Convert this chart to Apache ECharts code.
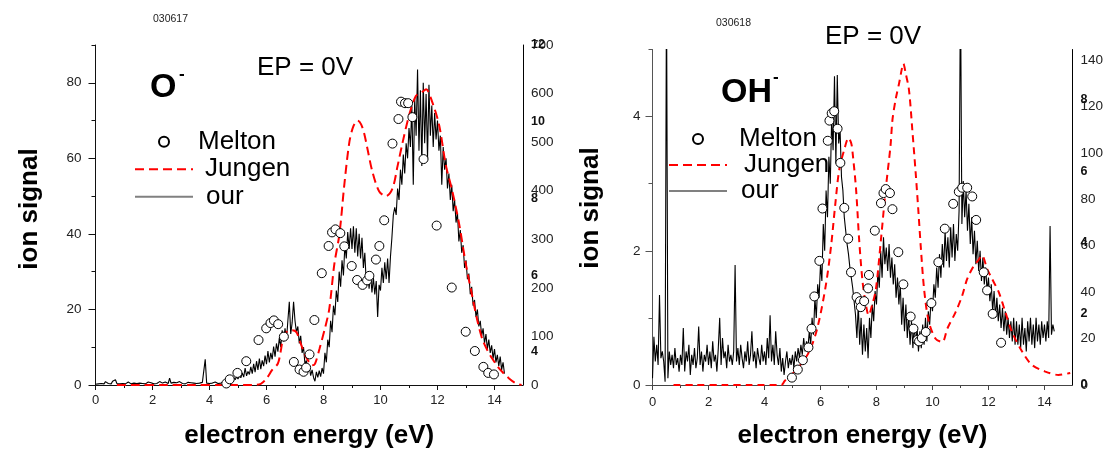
<!DOCTYPE html>
<html><head><meta charset="utf-8">
<script src="https://cdn.jsdelivr.net/npm/echarts@6/dist/echarts.min.js"></script>
<style>html,body{margin:0;padding:0;background:#fff}#c{width:1106px;height:454px}</style>
</head><body><div id="c"></div>
<script>
const FONT = '"Liberation Sans", Arial, Helvetica, sans-serif';

// ---------- tick labels ----------
const xTickLabels = [0, 2, 4, 6, 8, 10, 12, 14];
const xMinorTicks = [1, 3, 5, 7, 9, 11, 13];
const yLeftLabelsA = [0, 20, 40, 60, 80];
const yLeftMinorA = [10, 30, 50, 70, 90];
const yRightLabelsA = [0, 100, 200, 300, 400, 500, 600, 700];
const yRightBoldLabelsA = [4, 6, 8, 10, 12];
const yLeftLabelsB = [0, 2, 4];
const yLeftMinorB = [1, 3, 5];
const yRightLabelsB = [0, 20, 40, 60, 80, 100, 120, 140];
const yRightBoldLabelsB = [0, 2, 4, 6, 8];

// ---------- panel A: O- (030617) ----------
const ourStartA = 0, ourStepA = 0.05;
const ourSignalA = [
  0.2,0.5,0.3,0.8,0.4,0.6,0.3,0.9,0.5,0.4,0.7,0.3,1.0,0.5,1.4,0.4,0.6,0.3,0.5,0.4,
  0.6,0.3,0.5,0.8,0.4,0.3,0.6,0.5,0.9,0.4,0.3,0.5,0.7,0.4,0.6,0.3,0.5,0.8,0.4,0.6,
  0.5,0.3,0.7,0.4,0.6,0.9,0.4,0.5,0.3,0.8,0.6,0.4,1.8,0.5,0.3,0.7,0.4,0.6,0.5,0.9,
  1.3,0.4,0.6,0.3,0.5,0.7,0.4,0.6,0.3,0.5,0.8,0.4,0.6,0.5,0.3,0.7,0.4,6.8,0.5,0.6,
  0.4,0.7,0.5,0.3,0.8,0.6,0.4,0.9,0.5,0.7,
  0.8,1.2,0.6,1.5,1.0,1.8,1.2,2.0,1.4,2.2,1.6,2.5,1.9,3.2,2.1,4.5,2.4,3.6,2.8,4.8,3.0,5.6,3.4,6.3,4.0,7.0,4.2,6.5,5.0,7.8,
  5.5,9.0,6.0,8.5,6.8,10.2,7.5,11.0,8.8,12.5,10.0,14.5,11.5,15.0,12.0,17.0,22.0,13.5,16.5,22.0,
  17.0,14.0,15.5,11.0,13.0,8.5,10.0,5.5,6.5,3.5,5.0,2.5,4.0,2.0,1.0,3.5,2.0,3.8,2.2,4.5,
  3.0,8.5,6.0,12.0,10.0,17.0,14.0,21.0,18.5,25.0,22.0,30.0,26.0,33.0,29.0,37.0,33.5,40.5,36.0,41.5,
  36.0,42.0,35.0,41.5,34.0,40.0,33.5,39.0,31.0,35.0,27.0,30.0,25.5,29.5,24.5,28.5,24.0,27.5,18.0,26.5,
  25.0,31.0,27.0,32.5,28.0,33.5,27.0,34.0,39.0,45.0,47.0,45.0,52.0,49.0,57.0,53.0,61.0,56.0,64.0,60.0,
  68.0,63.0,74.0,53.0,76.0,66.0,83.5,62.0,78.0,58.0,80.0,64.0,77.0,60.0,79.5,66.0,74.0,63.0,72.0,65.0,
  70.0,62.0,66.0,53.0,63.0,57.0,60.0,52.0,56.0,49.0,53.0,46.0,49.0,43.0,45.5,38.0,41.0,35.0,37.0,31.0,
  33.0,28.0,29.5,24.0,26.0,21.0,22.5,18.0,20.0,15.5,17.0,13.0,15.0,11.0,13.5,9.5,12.0,8.5,10.5,7.0,9.5,6.0,8.0,5.0,7.5,4.0,6.0,3.0
];
const jungenEnergyA = [0.75,1.5,2.5,3.5,4.5,5.5,5.8,6.0,6.2,6.4,6.5,6.6,6.75,6.9,7.05,7.2,7.35,7.5,7.6,7.7,7.86,8.05,8.2,8.38,8.56,8.73,8.91,9.05,9.2,9.32,9.43,9.54,9.71,9.95,10.19,10.42,10.6,10.77,11.0,11.24,11.45,11.6,11.82,12.06,12.29,12.52,12.76,12.99,13.22,13.4,13.57,13.75,13.92,14.1,14.27,14.5,14.74,14.95];
const jungenSignalA = [0,0,0,0,0,0,0.3,1.7,4.0,5.7,9,13,14.3,14.5,14,11,8,6,5.2,5.6,9.6,15,20,32,40,53,64.4,68.5,70,69,66.5,62.6,56.6,51.3,50,52,58,64,71.3,76.5,77.5,78.3,74.8,68.7,58.3,51.3,42.6,32.2,23.5,17,12.2,9.2,7,5,3.5,1.8,0.5,0];
const meltonEnergyA = [4.59,4.71,4.98,5.29,5.72,5.99,6.14,6.26,6.41,6.61,6.96,7.16,7.3,7.39,7.51,7.68,7.94,8.18,8.3,8.42,8.59,8.73,8.99,9.18,9.37,9.53,9.61,9.84,9.96,10.13,10.42,10.63,10.72,10.86,10.97,11.12,11.51,11.97,12.5,12.99,13.31,13.61,13.78,13.98];
const meltonSignalA = [0.4,1.5,3.2,6.3,11.9,15,16.4,17.1,16.1,12.8,6.1,4.1,3.5,4.6,8.1,17.2,29.6,36.8,40.4,41.2,40.2,36.7,31.5,27.8,26.5,27.7,28.9,33.2,36.8,43.6,63.9,70.4,75,74.6,74.6,70.9,59.8,42.2,25.8,14.1,9,4.8,3.2,2.8];

// ---------- panel B: OH- (030618) ----------
const ourStartB = 0, ourStepB = 0.05;
const ourSignalB = [
  0.1,0.72,0.35,0.6,0.3,1.34,0.4,0.5,0.35,0.05,6.0,0.1,0.5,0.3,0.45,0.25,0.55,0.3,0.4,0.2,
  0.45,0.3,0.85,0.2,0.5,0.35,0.6,0.15,0.45,0.3,0.55,0.25,0.4,0.87,0.3,0.5,0.2,0.45,0.35,0.6,
  0.3,0.5,0.25,0.65,0.35,0.45,0.2,0.55,1.0,0.3,0.7,0.4,0.5,0.25,0.6,0.35,0.45,0.3,0.5,1.79,
  0.35,0.55,0.3,0.6,0.4,0.25,0.5,0.35,0.65,0.3,0.45,0.8,0.35,0.5,0.25,0.55,0.4,0.3,0.6,0.35,
  0.5,0.3,0.7,0.4,1.04,0.35,0.6,0.3,0.8,0.45,
  0.3,0.55,0.2,0.4,0.15,0.35,0.5,0.25,0.4,0.3,
  0.45,0.25,0.5,0.35,0.55,0.4,0.6,0.45,0.7,0.5,0.65,0.55,0.8,0.6,1.0,0.75,1.3,1.0,1.5,1.3,
  1.8,1.55,2.4,2.0,2.9,2.5,3.4,3.0,4.0,3.5,4.6,3.3,4.62,3.6,3.8,3.1,2.9,2.5,2.3,2.1,
  1.95,1.75,1.6,1.45,1.25,1.05,0.7,1.2,0.6,1.0,0.45,0.9,0.5,0.85,0.4,1.0,0.7,1.2,0.95,1.4,
  1.2,1.7,1.45,2.0,1.6,2.2,1.8,2.05,1.7,2.1,1.6,1.9,1.5,1.8,1.3,1.6,1.2,1.5,0.9,1.3,
  0.8,1.2,0.7,1.05,0.6,0.95,0.55,0.9,0.6,0.85,0.5,0.8,0.55,0.9,0.6,1.0,0.65,1.1,0.9,1.3,
  1.1,1.5,1.3,1.75,1.45,1.95,1.6,2.1,1.75,2.3,1.85,2.2,1.75,2.35,1.9,2.4,1.85,2.25,2.0,2.6,
  6.0,2.4,3.04,2.5,2.9,2.3,2.7,2.1,2.5,1.95,2.3,1.8,2.15,1.7,2.0,1.55,1.9,1.5,1.75,1.4,
  1.6,1.25,1.5,1.1,1.4,1.0,1.3,0.95,1.2,0.85,1.15,0.8,1.1,0.75,1.0,0.7,0.95,0.65,1.0,0.6,
  0.95,0.6,0.9,0.55,1.0,0.6,0.85,0.5,0.95,0.65,1.0,0.6,0.9,0.55,1.0,0.65,0.9,0.6,0.95,0.7,0.9,0.65,0.95,0.7,2.37,0.75,0.9,0.8
];
const jungenEnergyB = [0.75,1.5,2.5,3.5,4.6,4.72,5.19,5.6,5.9,6.2,6.38,6.53,6.67,6.85,7.0,7.1,7.15,7.27,7.38,7.5,7.62,7.72,7.85,7.98,8.16,8.33,8.5,8.57,8.69,8.81,8.9,8.96,9.04,9.16,9.28,9.4,9.5,9.58,9.7,9.87,10.11,10.35,10.53,10.83,11.06,11.24,11.48,11.62,11.77,11.95,12.13,12.37,12.6,12.84,13.2,13.55,14.03,14.5,14.92];
const jungenSignalB = [0,0,0,0,0,0.06,0.25,0.5,0.87,1.51,2.08,2.7,3.21,3.51,3.68,3.6,3.45,2.92,2.17,1.55,1.2,1.04,1.2,1.43,2.17,2.92,3.56,3.95,4.27,4.5,4.7,4.79,4.65,4.4,3.8,3.16,2.57,2.07,1.43,0.94,0.69,0.64,0.84,1.09,1.33,1.58,1.78,1.85,1.93,1.73,1.58,1.38,1.09,0.79,0.5,0.3,0.2,0.15,0.18];
const meltonEnergyB = [4.98,5.19,5.37,5.57,5.68,5.78,5.96,6.07,6.26,6.32,6.4,6.49,6.61,6.71,6.85,6.99,7.09,7.29,7.41,7.44,7.56,7.7,7.73,7.94,8.16,8.25,8.33,8.48,8.57,8.78,8.96,9.22,9.32,9.46,9.52,9.62,9.76,9.96,10.21,10.44,10.74,10.94,11.06,11.24,11.42,11.56,11.83,11.95,12.15,12.45];
const meltonSignalB = [0.11,0.23,0.37,0.56,0.84,1.32,1.85,2.63,3.64,3.94,4.05,4.08,3.82,3.31,2.64,2.18,1.68,1.31,1.25,1.16,1.25,1.44,1.64,2.3,2.71,2.86,2.92,2.86,2.62,1.98,1.5,1.02,0.84,0.67,0.65,0.7,0.79,1.22,1.83,2.33,2.7,2.88,2.94,2.94,2.81,2.46,1.68,1.41,1.06,0.63];

// ---------- helpers ----------
function zip(xs, ys) { return xs.map((x, i) => [x, ys[i]]); }
function stepped(start, step, ys) { return ys.map((y, i) => [+(start + i * step).toFixed(2), y]); }

function xMain(grid, margin, color) {
  return {
    type: 'value', gridIndex: grid, position: 'bottom', min: 0, max: 15,
    axisLine: { show: true, onZero: false, lineStyle: { color: color, width: 1 } },
    axisTick: { show: true, length: 5, customValues: xTickLabels, lineStyle: { color: color } },
    axisLabel: { customValues: xTickLabels, fontSize: 13, color: '#222', margin: margin, fontFamily: FONT },
    splitLine: { show: false },
    name: 'electron energy (eV)', nameLocation: 'middle', nameGap: 38,
    nameTextStyle: { fontSize: 26, fontWeight: 'bold', fontFamily: FONT, color: '#000' }
  };
}
function xMinor(grid, color) {
  return {
    type: 'value', gridIndex: grid, position: 'bottom', min: 0, max: 15,
    axisLine: { show: false }, axisLabel: { show: false }, splitLine: { show: false },
    axisTick: { show: true, length: 3, customValues: xMinorTicks, lineStyle: { color: color } }
  };
}
function yMain(grid, min, max, labels, margin, color) {
  return {
    type: 'value', gridIndex: grid, position: 'left', min: min, max: max,
    axisLine: { show: true, onZero: false, lineStyle: { color: color, width: 1 } },
    axisTick: { show: true, length: 7, customValues: labels, lineStyle: { color: color } },
    axisLabel: { customValues: labels, fontSize: 13.5, color: '#222', margin: margin, fontFamily: FONT },
    splitLine: { show: false }
  };
}
function yMinor(grid, min, max, ticks, color) {
  return {
    type: 'value', gridIndex: grid, position: 'left', min: min, max: max,
    axisLine: { show: false }, axisLabel: { show: false }, splitLine: { show: false },
    axisTick: { show: true, length: 4, customValues: ticks, lineStyle: { color: color } }
  };
}
function yRight(grid, min, max, labels) {
  return {
    type: 'value', gridIndex: grid, position: 'right', min: min, max: max,
    axisLine: { show: true, onZero: false, lineStyle: { color: '#000', width: 1 } },
    axisTick: { show: false },
    axisLabel: { customValues: labels, fontSize: 13.5, color: '#222', margin: 8, fontFamily: FONT },
    splitLine: { show: false }
  };
}
function yRightBold(grid, min, max, labels) {
  return {
    type: 'value', gridIndex: grid, position: 'right', min: min, max: max,
    axisLine: { show: false }, axisTick: { show: false },
    axisLabel: { customValues: labels, fontSize: 12.5, fontWeight: 'bold', color: '#111', margin: 8, fontFamily: FONT },
    splitLine: { show: false }
  };
}

function panelSeries(xi, yi, our, jungen, melton, dash) {
  return [
    { name: 'our', type: 'line', xAxisIndex: xi, yAxisIndex: yi, data: our, symbol: 'none',
      lineStyle: { color: '#000', width: 1.1 }, itemStyle: { color: '#000' }, clip: true, z: 2 },
    { name: 'Jungen', type: 'line', xAxisIndex: xi, yAxisIndex: yi, data: jungen, symbol: 'none',
      smooth: 0.3, lineStyle: { color: '#ff0000', width: 2, type: dash }, itemStyle: { color: '#ff0000' }, clip: true, z: 3 },
    { name: 'Melton', type: 'scatter', xAxisIndex: xi, yAxisIndex: yi, data: melton, symbol: 'circle',
      symbolSize: 9, itemStyle: { color: '#fff', borderColor: '#000', borderWidth: 1, opacity: 1 }, z: 4 }
  ];
}

const HIDE_SYMBOL = { color: 'rgba(0,0,0,0)', borderColor: 'rgba(0,0,0,0)', borderWidth: 0 };
function legendFor(left, top, lh, padM, padJ, padO) {
  return {
    orient: 'vertical', left: left, top: top, padding: 0, itemWidth: 58, itemHeight: 10, itemGap: 0,
    selectedMode: false,
    textStyle: { fontSize: 26, fontFamily: FONT, color: '#000', lineHeight: lh },
    data: [
      { name: 'Melton', textStyle: { padding: [0, 0, 0, padM] } },
      { name: 'Jungen', itemStyle: HIDE_SYMBOL, textStyle: { padding: [0, 0, 0, padJ] } },
      { name: 'our', itemStyle: HIDE_SYMBOL, lineStyle: { color: '#808080', width: 2, type: 'solid' }, textStyle: { padding: [0, 0, 0, padO] } }
    ]
  };
}

function txt(x, y, text, font, fill) {
  return { type: 'text', x: x, y: y, silent: true,
    style: { text: text, font: font, fill: fill || '#000', align: 'left', verticalAlign: 'middle' } };
}

const option = {
  animation: false,
  backgroundColor: '#fff',
  grid: [
    { left: 95.5, top: 45, width: 427.5, height: 345 },
    { left: 652.5, top: 49.5, width: 421.5, height: 337.2 }
  ],
  xAxis: [xMain(0, 9, '#111'), xMinor(0, '#111'), xMain(1, 11, '#444'), xMinor(1, '#444')],
  yAxis: [
    yMain(0, 0, 90, yLeftLabelsA, 14, '#111'),
    yMinor(0, 0, 90, yLeftMinorA, '#111'),
    yRight(0, 0, 700, yRightLabelsA),
    yRightBold(0, 3.14, 12, yRightBoldLabelsA),
    yMain(1, 0, 5, yLeftLabelsB, 12, '#555'),
    yMinor(1, 0, 5, yLeftMinorB, '#555'),
    yRight(1, 0, 144.5, yRightLabelsB),
    yRightBold(1, 0, 9.41, yRightBoldLabelsB)
  ],
  legend: [
    legendFor(134, 128, 27.5, 0, 7, 8),
    legendFor(668, 126, 26, 7, 12, 9)
  ],
  series: [].concat(
    panelSeries(0, 0, stepped(ourStartA, ourStepA, ourSignalA), zip(jungenEnergyA, jungenSignalA), zip(meltonEnergyA, meltonSignalA), [9, 5]),
    panelSeries(2, 4, stepped(ourStartB, ourStepB, ourSignalB), zip(jungenEnergyB, jungenSignalB), zip(meltonEnergyB, meltonSignalB), [7, 5])
  ),
  graphic: [
    txt(153, 19, '030617', '10.5px ' + FONT, '#222'),
    txt(150, 88, 'O', 'bold 34px ' + FONT),
    txt(179, 74, '-', 'bold 17px ' + FONT),
    txt(257, 68, 'EP = 0V', '26px ' + FONT),
    txt(716, 23, '030618', '10.5px ' + FONT, '#222'),
    txt(721, 92.5, 'OH', 'bold 34px ' + FONT),
    txt(773, 77, '-', 'bold 17px ' + FONT),
    txt(825, 37, 'EP = 0V', '26px ' + FONT),
    { type: 'text', x: 30, y: 209, rotation: Math.PI / 2, silent: true,
      style: { text: 'ion signal', font: 'bold 26px ' + FONT, fill: '#000', align: 'center', verticalAlign: 'middle' } },
    { type: 'text', x: 591, y: 208, rotation: Math.PI / 2, silent: true,
      style: { text: 'ion signal', font: 'bold 26px ' + FONT, fill: '#000', align: 'center', verticalAlign: 'middle' } }
  ]
};

const chart = echarts.init(document.getElementById('c'), null, { renderer: 'canvas' });
chart.setOption(option);
</script></body></html>
